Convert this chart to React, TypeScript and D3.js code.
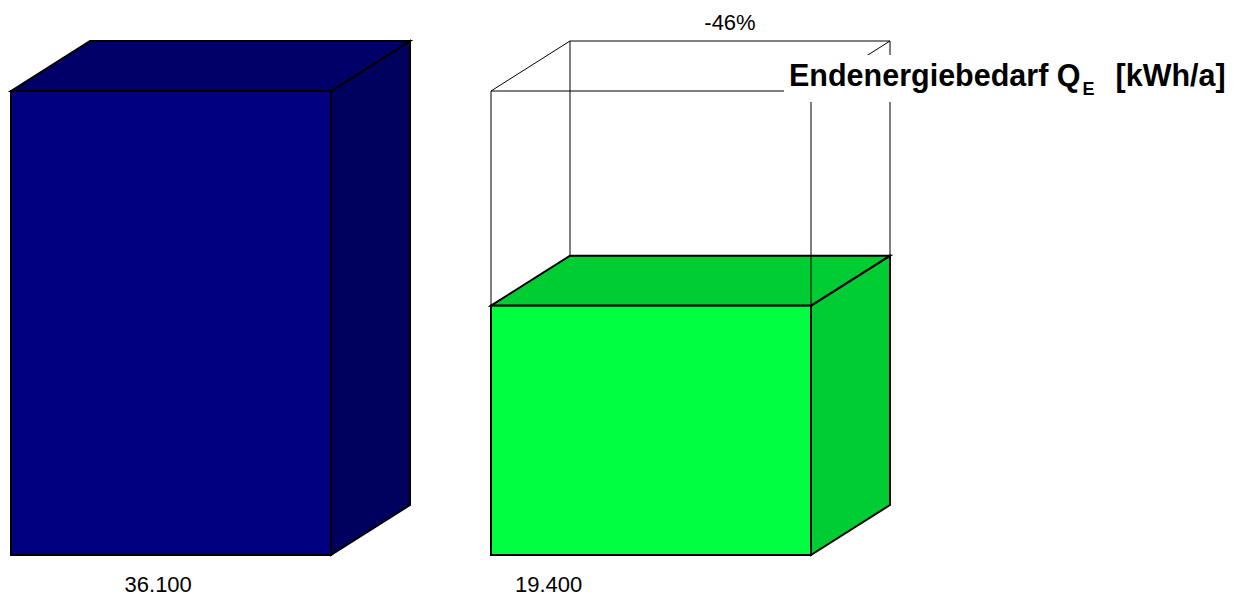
import React from "react";
import * as d3 from "d3";

// Final energy demand before and after refurbishment
const categories = ["Bestand", "Saniert"];
const values = [36100, 19400];
const valueLabels = ["36.100", "19.400"];

const WIDTH = 1244;
const HEIGHT = 596;

// Front/top/side shades for each box
const frontColors = ["#000080", "#00FF40"];
const topColors = ["#000068", "#00CC33"];
const sideColors = ["#00005E", "#00CC33"];

// Oblique depth of the 3D boxes
const DX = 79;
const DY = -50;

// Horizontal anchor of the value labels as a fraction of the bar width
const labelAnchor = [0.46, 0.18];

const FONT = "'Liberation Sans', Arial, Helvetica, sans-serif";

export default function App() {
  const x = d3
    .scaleBand<string>()
    .domain(categories)
    .range([11, 811])
    .paddingInner(1 / 3)
    .paddingOuter(0);
  const y = d3.scaleLinear().domain([0, 36100]).range([555, 91]);
  const bw = x.bandwidth();
  const y0 = y(0);

  const poly = (pts: [number, number][]) => pts.map((p) => p.join(",")).join(" ");

  const boxes = categories.map((c, i) => {
    const x0 = x(c)!;
    const x1 = x0 + bw;
    const yt = y(values[i]);
    return (
      <g key={c} stroke="#000" strokeWidth={2} strokeLinejoin="miter">
        <polygon
          points={poly([
            [x1, yt],
            [x1 + DX, yt + DY],
            [x1 + DX, y0 + DY],
            [x1, y0],
          ])}
          fill={sideColors[i]}
        />
        <polygon
          points={poly([
            [x0, yt],
            [x0 + DX, yt + DY],
            [x1 + DX, yt + DY],
            [x1, yt],
          ])}
          fill={topColors[i]}
        />
        <rect x={x0} y={yt} width={bw} height={y0 - yt} fill={frontColors[i]} />
      </g>
    );
  });

  // Outline of the original demand drawn over the refurbished box
  const gx0 = x(categories[1])!;
  const gx1 = gx0 + bw;
  const gTop = y(values[0]);
  const gLow = y(values[1]);
  const ghost = (
    <g stroke="#000" strokeWidth={1} fill="none">
      <line x1={gx0} y1={gTop} x2={gx1} y2={gTop} />
      <line x1={gx0} y1={gTop} x2={gx0 + DX} y2={gTop + DY} />
      <line x1={gx1} y1={gTop} x2={gx1 + DX} y2={gTop + DY} />
      <line x1={gx0 + DX} y1={gTop + DY} x2={gx1 + DX} y2={gTop + DY} />
      <line x1={gx0} y1={gTop} x2={gx0} y2={gLow} />
      <line x1={gx1} y1={gTop} x2={gx1} y2={gLow} />
      <line x1={gx0 + DX} y1={gTop + DY} x2={gx0 + DX} y2={gLow + DY} />
      <line x1={gx1 + DX} y1={gTop + DY} x2={gx1 + DX} y2={gLow + DY} />
    </g>
  );

  const change = Math.round(((values[1] - values[0]) / values[0]) * 100);

  return (
    <svg
      width={WIDTH}
      height={HEIGHT}
      style={{ position: "absolute", left: 0, top: 0, background: "#fff" }}
      fontFamily={FONT}
    >
      <rect width={WIDTH} height={HEIGHT} fill="#fff" />
      {boxes}
      {ghost}
      <text
        x={gx0 + DX + bw / 2}
        y={gTop + DY - 11}
        textAnchor="middle"
        fontSize={22}
        fill="#000"
      >
        {`${change}%`}
      </text>
      {/* Title with a white backing box */}
      <rect x={784} y={55} width={452} height={47} fill="#fff" />
      <text x={789} y={86} fontSize={30.5} fontWeight="bold" fill="#000">
        Endenergiebedarf Q
        <tspan fontSize={18} dy={9} dx={2}>E</tspan>
        <tspan dy={-9} dx={21}>[kWh/a]</tspan>
      </text>
      {categories.map((c, i) => (
        <text
          key={c}
          x={x(c)! + bw * labelAnchor[i]}
          y={592}
          textAnchor="middle"
          fontSize={22}
          fill="#000"
        >
          {valueLabels[i]}
        </text>
      ))}
    </svg>
  );
}
